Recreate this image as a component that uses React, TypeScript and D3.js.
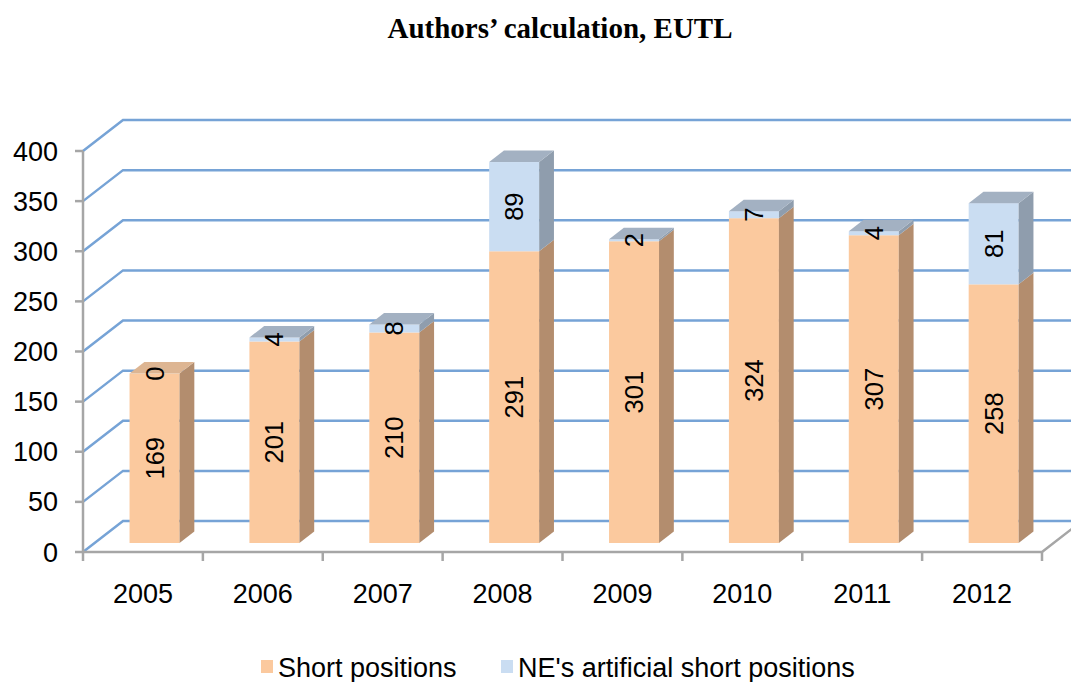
import React from 'react';
import * as d3 from 'd3';

const years = ['2005', '2006', '2007', '2008', '2009', '2010', '2011', '2012'];
const shortPositions = [169, 201, 210, 291, 301, 324, 307, 258];
const artificialShort = [0, 4, 8, 89, 2, 7, 4, 81];
const yTicks = [0, 50, 100, 150, 200, 250, 300, 350, 400];
const seriesNames = ['Short positions', "NE's artificial short positions"];

const W = 1071;
const H = 682;
const X0 = 83;
const X1 = 1042;
const Y0 = 552;
const Y400 = 151;
const WALL = { dx: 40, dy: -31 };
const BF = { dx: 11.6, dy: -9 };
const BB = { dx: 26.4, dy: -20.5 };

const colors = {
  orangeFront: '#FBC99E',
  orangeSide: '#B38D6E',
  orangeTop: '#DDB592',
  blueFront: '#CADDF2',
  blueSide: '#8F9DAD',
  blueTop: '#A3B1C2',
  grid: '#76A3D6',
  axis: '#A6A6A6',
};

const font = '"Liberation Sans", Arial, Helvetica, sans-serif';

export default function App() {
  const x = d3
    .scaleBand<string>()
    .domain(years)
    .range([X0, X1])
    .paddingInner(0.583)
    .paddingOuter(0.2915);
  const step = (X1 - X0) / years.length;
  const y = d3.scaleLinear().domain([0, 400]).range([Y0, Y400]);

  const bars = years.map((yr, i) => {
    const segs = [
      { v0: 0, v1: shortPositions[i], front: colors.orangeFront, side: colors.orangeSide, top: colors.orangeTop, val: shortPositions[i] },
      { v0: shortPositions[i], v1: shortPositions[i] + artificialShort[i], front: colors.blueFront, side: colors.blueSide, top: colors.blueTop, val: artificialShort[i] },
    ];
    const xl = (x(yr) as number) + BF.dx;
    const bw = x.bandwidth();
    const xr = xl + bw;
    const ddx = BB.dx - BF.dx;
    const ddy = BB.dy - BF.dy;
    const topSeg = segs[1].val > 0 ? segs[1] : segs[0];
    const yTop = y(topSeg.v1) + BF.dy;
    return (
      <g key={yr}>
        {segs.map((s, j) => {
          if (s.val <= 0) return null;
          const yb = y(s.v0) + BF.dy;
          const yt = y(s.v1) + BF.dy;
          return (
            <g key={j}>
              <rect x={xl} y={yt} width={bw} height={yb - yt} fill={s.front} />
              <path
                d={`M${xr},${yb}L${xr + ddx},${yb + ddy}L${xr + ddx},${yt + ddy}L${xr},${yt}Z`}
                fill={s.side}
              />
            </g>
          );
        })}
        <path
          d={`M${xl},${yTop}L${xr},${yTop}L${xr + ddx},${yTop + ddy}L${xl + ddx},${yTop + ddy}Z`}
          fill={topSeg.top}
        />
        {segs.map((s, j) => {
          const cy = (y(s.v0) + y(s.v1)) / 2 + BF.dy;
          const cx = xl + bw / 2;
          return (
            <text
              key={'l' + j}
              transform={`translate(${cx},${cy}) rotate(-90)`}
              textAnchor="middle"
              dominantBaseline="central"
              fontFamily={font}
              fontSize={25.5}
              fill="#000"
            >
              {s.val}
            </text>
          );
        })}
      </g>
    );
  });

  return (
    <svg
      width={W}
      height={H}
      style={{ position: 'absolute', left: 0, top: 0, background: '#fff' }}
    >
      <rect x={0} y={0} width={W} height={H} fill="#fff" />
      <text
        x={560}
        y={38}
        textAnchor="middle"
        fontFamily='"Liberation Serif", "Times New Roman", serif'
        fontWeight="bold"
        fontSize={29}
      >
        Authors’ calculation, EUTL
      </text>

      {yTicks.map((t) => (
        <path
          key={'g' + t}
          d={`M${X0},${y(t)}L${X0 + WALL.dx},${y(t) + WALL.dy}L${W},${y(t) + WALL.dy}`}
          fill="none"
          stroke={colors.grid}
          strokeWidth={2.5}
        />
      ))}

      <path
        d={`M${X0},${Y0}L${X1},${Y0}L${X1 + WALL.dx},${Y0 + WALL.dy}`}
        fill="none"
        stroke={colors.axis}
        strokeWidth={2.5}
      />
      <line x1={X0} y1={Y0} x2={X0} y2={Y400} stroke={colors.axis} strokeWidth={2.5} />
      {yTicks.map((t) => (
        <g key={'yt' + t}>
          <line x1={X0 - 8} x2={X0} y1={y(t)} y2={y(t)} stroke={colors.axis} strokeWidth={2.5} />
          <text
            x={58}
            y={y(t) + 9.5}
            textAnchor="end"
            fontFamily={font}
            fontSize={27}
            fill="#000"
          >
            {t}
          </text>
        </g>
      ))}
      {d3.range(years.length + 1).map((i) => (
        <line
          key={'xt' + i}
          x1={X0 + i * step}
          x2={X0 + i * step}
          y1={Y0}
          y2={Y0 + 9}
          stroke={colors.axis}
          strokeWidth={2.5}
        />
      ))}
      {years.map((yr) => (
        <text
          key={'xl' + yr}
          x={(x(yr) as number) + x.bandwidth() / 2}
          y={603}
          textAnchor="middle"
          fontFamily={font}
          fontSize={27}
          fill="#000"
        >
          {yr}
        </text>
      ))}

      {bars}

      <rect x={261} y={660} width={12} height={13} fill={colors.orangeFront} />
      <text x={278} y={677} fontFamily={font} fontSize={27} fill="#000">
        {seriesNames[0]}
      </text>
      <rect x={501} y={660} width={12} height={13} fill={colors.blueFront} />
      <text x={518} y={677} fontFamily={font} fontSize={27} fill="#000">
        {seriesNames[1]}
      </text>
    </svg>
  );
}
